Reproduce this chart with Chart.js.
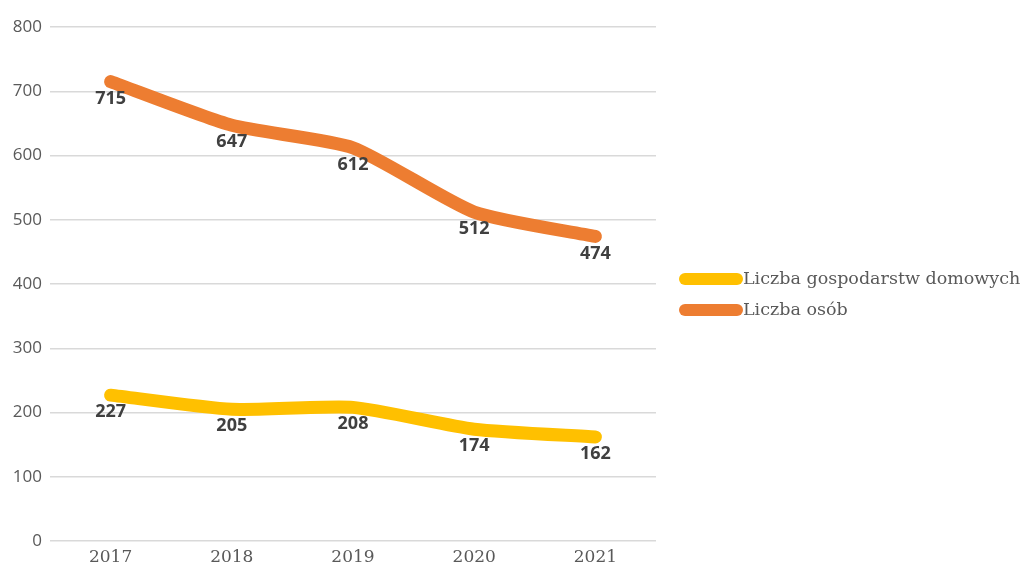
<!DOCTYPE html>
<html><head><meta charset="utf-8">
<script src="https://cdn.jsdelivr.net/npm/chart.js@4.4.1/dist/chart.umd.min.js"></script>
<style>html,body{margin:0;padding:0;background:#fff}#wrap{width:1021px;height:568px;position:relative}</style>
</head><body><div id="wrap"><canvas id="c" width="1021" height="568"></canvas></div>
<script>
const categories = ['2017','2018','2019','2020','2021'];
const households = [227, 205, 208, 174, 162];
const persons = [715, 647, 612, 512, 474];
const yTicks = [0,100,200,300,400,500,600,700,800];
const seriesNames = ['Liczba gospodarstw domowych','Liczba osób'];

const labelsPlugin = {
  id:'valLabels',
  afterDatasetsDraw(chart){
    const ctx = chart.ctx;
    ctx.save();
    ctx.font = 'bold 18px "Open Sans", sans-serif';
    ctx.fillStyle = '#404040';
    ctx.textAlign = 'center';
    ctx.textBaseline = 'middle';
    chart.data.datasets.forEach((ds,i)=>{
      chart.getDatasetMeta(i).data.forEach((pt,j)=>{
        ctx.fillText(String(ds.data[j]), pt.x, pt.y + 17);
      });
    });
    ctx.restore();
  }
};
const legendPlugin = {
  id:'sideLegend',
  afterDraw(chart){
    const ctx = chart.ctx;
    ctx.save();
    ctx.font = '17.5px "DejaVu Serif", serif';
    ctx.textBaseline = 'middle';
    chart.data.datasets.forEach((ds,i)=>{
      const y = 279 + i*31;
      ctx.strokeStyle = ds.borderColor;
      ctx.lineWidth = 12;
      ctx.lineCap = 'round';
      ctx.beginPath(); ctx.moveTo(685,y); ctx.lineTo(737,y); ctx.stroke();
      ctx.fillStyle = '#595959';
      ctx.fillText(ds.label, 743, y);
    });
    ctx.restore();
  }
};

new Chart(document.getElementById('c'), {
  type:'line',
  data:{
    labels:categories,
    datasets:[
      {label:seriesNames[0], data:households, borderColor:'#FFC000', backgroundColor:'#FFC000', borderWidth:13, tension:0.2, pointRadius:0, borderCapStyle:'round', borderJoinStyle:'round'},
      {label:seriesNames[1], data:persons, borderColor:'#ED7D31', backgroundColor:'#ED7D31', borderWidth:13, tension:0.2, pointRadius:0, borderCapStyle:'round', borderJoinStyle:'round'}
    ]
  },
  options:{
    responsive:false, animation:false,
    layout:{padding:{left:0,right:365,top:27,bottom:0}},
    plugins:{legend:{display:false}, tooltip:{enabled:false}},
    scales:{
      x:{
        offset:true,
        grid:{display:false, drawTicks:false}, border:{display:false},
        ticks:{color:'#595959', font:{family:'"DejaVu Serif", serif', size:17}, padding:6},
        afterFit(s){ s.height = 27; }
      },
      y:{
        min:0, max:800,
        afterBuildTicks(s){ s.ticks = yTicks.map(v=>({value:v})); },
        grid:{color:'#d9d9d9', lineWidth:1.5, drawTicks:false},
        border:{display:false},
        ticks:{color:'#595959', font:{family:'"Open Sans", sans-serif', size:17}, padding:8},
        afterFit(s){ s.width = 50; }
      }
    }
  },
  plugins:[labelsPlugin, legendPlugin]
});
</script></body></html>
